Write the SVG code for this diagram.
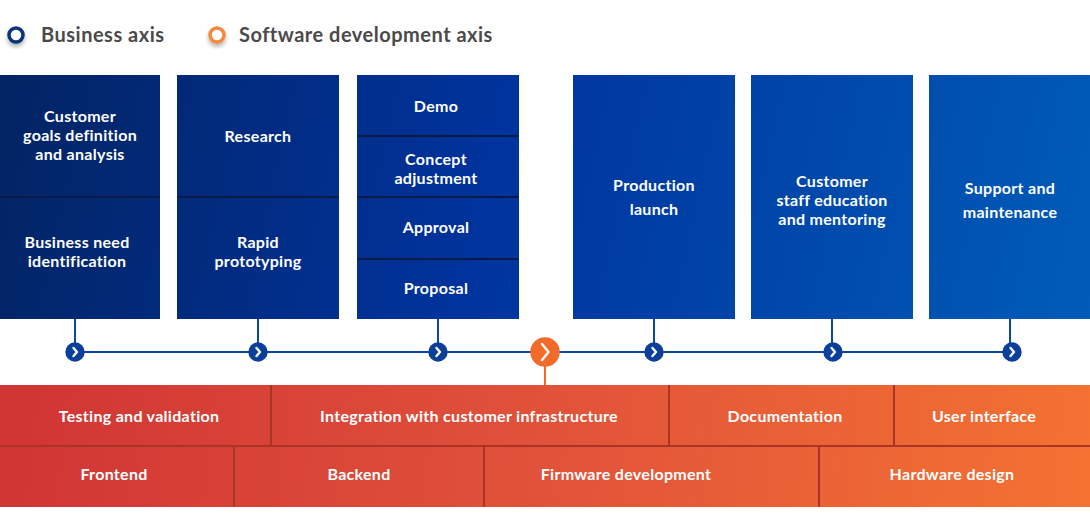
<svg xmlns="http://www.w3.org/2000/svg" width="1090" height="525" viewBox="0 0 1090 525">
  <defs>
    <linearGradient id="blueGrad" gradientUnits="userSpaceOnUse" x1="0" y1="75" x2="1090" y2="319">
      <stop offset="0" stop-color="#032463"/>
      <stop offset="0.45" stop-color="#00339d"/>
      <stop offset="1" stop-color="#005cb8"/>
    </linearGradient>
    <linearGradient id="redGrad" gradientUnits="userSpaceOnUse" x1="0" y1="385" x2="1090" y2="507">
      <stop offset="0" stop-color="#d03434"/>
      <stop offset="0.5" stop-color="#e1523a"/>
      <stop offset="1" stop-color="#f47232"/>
    </linearGradient>
    <filter id="shadow" x="-50%" y="-50%" width="200%" height="200%">
      <feDropShadow dx="0" dy="3" stdDeviation="2" flood-color="#000" flood-opacity="0.3"/>
    </filter>
  </defs>
  <style>
    .legend { font-family: "Lato", "Liberation Sans", sans-serif; font-size: 20px; font-weight: 700; fill: #4a4a4a; letter-spacing: 0.5px; }
    .lbl { font-family: "Lato", "Liberation Sans", sans-serif; font-size: 16px; font-weight: 700; fill: #ffffff; text-anchor: middle; dominant-baseline: central; letter-spacing: 0.3px; }
    .block { fill: url(#blueGrad); }
    .bdiv { stroke: #0b1b45; stroke-width: 2; }
    .rdiv { stroke: #a93527; stroke-width: 2; }
    .stem { stroke: #0a47a5; stroke-width: 2; fill: none; }
    .dot { fill: #0b3f9a; }
    .chev { fill: none; stroke: #ffffff; stroke-width: 2.4; stroke-linecap: round; stroke-linejoin: round; }
  </style>
  <rect width="1090" height="525" fill="#ffffff"/>

  <g id="legend">
    <circle cx="16" cy="35" r="7" fill="#ffffff" stroke="#0a3576" stroke-width="3.5" filter="url(#shadow)"/>
    <text class="legend" x="41" y="42">Business axis</text>
    <circle cx="217" cy="35" r="7" fill="#ffffff" stroke="#f5883d" stroke-width="3.5" filter="url(#shadow)"/>
    <text class="legend" x="239" y="42">Software development axis</text>
  </g>

  <g id="connectors">
    <line class="stem" x1="75" y1="352" x2="1012" y2="352"/>
    <line class="stem" x1="75" y1="319" x2="75" y2="352"/>
    <line class="stem" x1="258" y1="319" x2="258" y2="352"/>
    <line class="stem" x1="438" y1="319" x2="438" y2="352"/>
    <line class="stem" x1="654" y1="319" x2="654" y2="352"/>
    <line class="stem" x1="832" y1="319" x2="832" y2="352"/>
    <line class="stem" x1="1010" y1="319" x2="1010" y2="352"/>
    <line x1="545" y1="352" x2="545" y2="386" stroke="#f26b2b" stroke-width="2"/>
  </g>

  <g id="block-1">
    <rect class="block" x="0" y="75" width="160" height="244"/>
    <line class="bdiv" x1="0" y1="197" x2="160" y2="197"/>
    <text class="lbl" x="80" y="115.5">Customer</text>
    <text class="lbl" x="80" y="134.5">goals definition</text>
    <text class="lbl" x="80" y="153.5">and analysis</text>
    <text class="lbl" x="77" y="241.5">Business need</text>
    <text class="lbl" x="77" y="260.5">identification</text>
  </g>
  <g id="block-2">
    <rect class="block" x="177" y="75" width="162" height="244"/>
    <line class="bdiv" x1="177" y1="197" x2="339" y2="197"/>
    <text class="lbl" x="258" y="135.5">Research</text>
    <text class="lbl" x="258" y="241.5">Rapid</text>
    <text class="lbl" x="258" y="260.5">prototyping</text>
  </g>
  <g id="block-3">
    <rect class="block" x="357" y="75" width="162" height="244"/>
    <line class="bdiv" x1="357" y1="136" x2="519" y2="136"/>
    <line class="bdiv" x1="357" y1="197" x2="519" y2="197"/>
    <line class="bdiv" x1="357" y1="259" x2="519" y2="259"/>
    <text class="lbl" x="436" y="105.5">Demo</text>
    <text class="lbl" x="436" y="158.5">Concept</text>
    <text class="lbl" x="436" y="177.5">adjustment</text>
    <text class="lbl" x="436" y="226.5">Approval</text>
    <text class="lbl" x="436" y="287.5">Proposal</text>
  </g>
  <g id="block-4">
    <rect class="block" x="573" y="75" width="162" height="244"/>
    <text class="lbl" x="654" y="184.5">Production</text>
    <text class="lbl" x="654" y="208.5">launch</text>
  </g>
  <g id="block-5">
    <rect class="block" x="751" y="75" width="162" height="244"/>
    <text class="lbl" x="832" y="180.5">Customer</text>
    <text class="lbl" x="832" y="199.5">staff education</text>
    <text class="lbl" x="832" y="218.5">and mentoring</text>
  </g>
  <g id="block-6">
    <rect class="block" x="929" y="75" width="161" height="244"/>
    <text class="lbl" x="1010" y="187.5">Support and</text>
    <text class="lbl" x="1010" y="211.5">maintenance</text>
  </g>

  <g id="timeline-dots">
    <g transform="translate(75,352)"><circle class="dot" r="9.7"/><path class="chev" d="M -1.5 -4 L 2 0 L -1.5 4"/></g>
    <g transform="translate(258,352)"><circle class="dot" r="9.7"/><path class="chev" d="M -1.5 -4 L 2 0 L -1.5 4"/></g>
    <g transform="translate(438,352)"><circle class="dot" r="9.7"/><path class="chev" d="M -1.5 -4 L 2 0 L -1.5 4"/></g>
    <g transform="translate(654,352)"><circle class="dot" r="9.7"/><path class="chev" d="M -1.5 -4 L 2 0 L -1.5 4"/></g>
    <g transform="translate(833,352)"><circle class="dot" r="9.7"/><path class="chev" d="M -1.5 -4 L 2 0 L -1.5 4"/></g>
    <g transform="translate(1012,352)"><circle class="dot" r="9.7"/><path class="chev" d="M -1.5 -4 L 2 0 L -1.5 4"/></g>
    <g id="sw-dot" transform="translate(545,352)"><circle r="14.7" fill="#f26b2b"/><path class="chev" stroke-width="2" d="M -3 -8 L 3.5 0 L -3 8"/></g>
  </g>

  <g id="software-axis">
    <rect x="0" y="385" width="1090" height="122" fill="url(#redGrad)"/>
    <line class="rdiv" x1="0" y1="446" x2="1090" y2="446"/>
    <line class="rdiv" x1="271" y1="385" x2="271" y2="446"/>
    <line class="rdiv" x1="669" y1="385" x2="669" y2="446"/>
    <line class="rdiv" x1="894" y1="385" x2="894" y2="446"/>
    <line class="rdiv" x1="234" y1="446" x2="234" y2="507"/>
    <line class="rdiv" x1="484" y1="446" x2="484" y2="507"/>
    <line class="rdiv" x1="819" y1="446" x2="819" y2="507"/>
    <text class="lbl" x="139" y="415.5">Testing and validation</text>
    <text class="lbl" x="469" y="415.5">Integration with customer infrastructure</text>
    <text class="lbl" x="785" y="415.5">Documentation</text>
    <text class="lbl" x="984" y="415.5">User interface</text>
    <text class="lbl" x="114" y="473.5">Frontend</text>
    <text class="lbl" x="359" y="473.5">Backend</text>
    <text class="lbl" x="626" y="473.5">Firmware development</text>
    <text class="lbl" x="952" y="473.5">Hardware design</text>
  </g>
</svg>
